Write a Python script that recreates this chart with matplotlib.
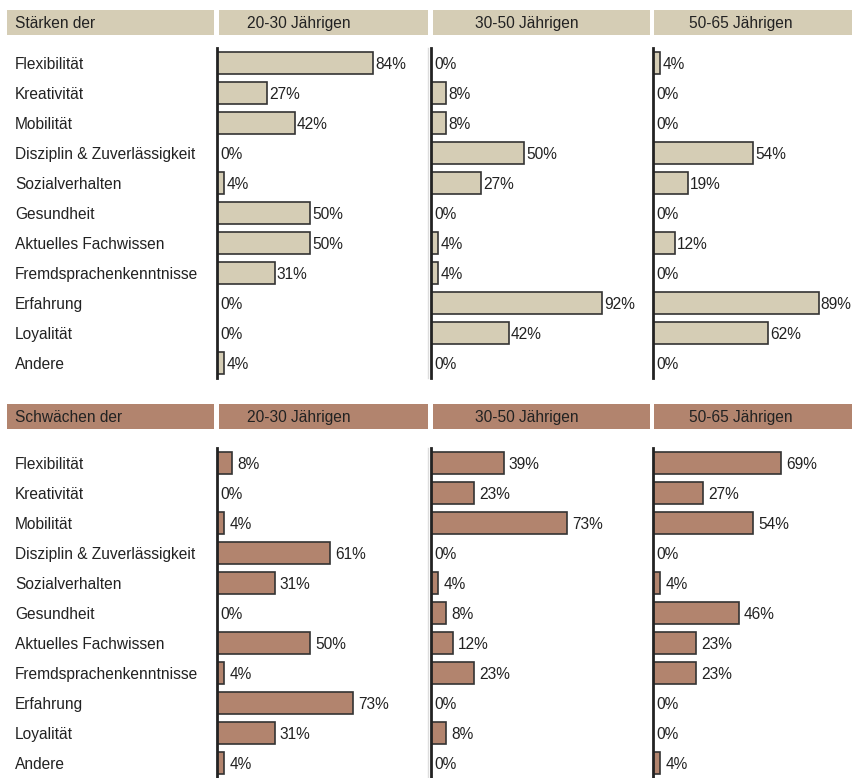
import matplotlib
matplotlib.use("Agg")
import matplotlib.pyplot as plt
from matplotlib.patches import Rectangle

plt.rcParams['font.family'] = ['Liberation Sans', 'DejaVu Sans']

categories = ["Flexibilität", "Kreativität", "Mobilität", "Disziplin & Zuverlässigkeit",
              "Sozialverhalten", "Gesundheit", "Aktuelles Fachwissen",
              "Fremdsprachenkenntnisse", "Erfahrung", "Loyalität", "Andere"]
age_groups = ["20-30 Jährigen", "30-50 Jährigen", "50-65 Jährigen"]
panel_titles = ["Stärken der", "Schwächen der"]

staerken_20_30 = [84, 27, 42, 0, 4, 50, 50, 31, 0, 0, 4]
staerken_30_50 = [0, 8, 8, 50, 27, 0, 4, 4, 92, 42, 0]
staerken_50_65 = [4, 0, 0, 54, 19, 0, 12, 0, 89, 62, 0]

schwaechen_20_30 = [8, 0, 4, 61, 31, 0, 50, 4, 73, 31, 4]
schwaechen_30_50 = [39, 23, 73, 0, 4, 8, 12, 23, 0, 8, 0]
schwaechen_50_65 = [69, 27, 54, 0, 4, 46, 23, 23, 0, 0, 4]

panels = [
    ([staerken_20_30, staerken_30_50, staerken_50_65], "#d5cdb5", 2),
    ([schwaechen_20_30, schwaechen_30_50, schwaechen_50_65], "#b2846e", 5),
]

W, H = 852, 778
fig = plt.figure(figsize=(W / 100, H / 100), dpi=100)
fig.patch.set_facecolor("white")

PX_PER_PCT = 1.86
TEXT = "#222222"
FS = 11.2
BASE = 6  # pixels from row centre down to text baseline

# pixel layout of the columns (axis line, right edge of column)
col_left = [217, 431, 653]
col_right = [428, 645, 852]
header_boxes = [(7, 214), (219, 428), (433, 650), (654, 852)]
header_text_x = [247, 475, 689]
panel_top = [10, 404]         # header top
header_h = 25
axes_top = [48, 448]
row_h = 30
n = len(categories)


def fx(px):
    return px / W


def fy(py):
    return 1 - py / H


for p, (series, color, gap) in enumerate(panels):
    top = panel_top[p]
    # header strip
    for (x0, x1) in header_boxes:
        fig.patches.append(Rectangle((fx(x0), fy(top + header_h)), fx(x1 - x0), header_h / H,
                                     transform=fig.transFigure, facecolor=color,
                                     edgecolor="none", zorder=0))
    hy = fy(top + header_h / 2 + 5.5)
    fig.text(fx(15), hy, panel_titles[p], ha="left", va="baseline",
             fontsize=FS, color=TEXT)
    for c in range(3):
        fig.text(fx(header_text_x[c]), hy, age_groups[c],
                 ha="left", va="baseline", fontsize=FS, color=TEXT)

    ax_top = axes_top[p]
    ax_h = n * row_h
    # category labels
    for i, cat in enumerate(categories):
        fig.text(fx(15), fy(ax_top + row_h * (i + 0.5) + BASE), cat, ha="left",
                 va="baseline", fontsize=FS, color=TEXT)

    for c in range(3):
        left, right = col_left[c], col_right[c]
        ax = fig.add_axes([fx(left), fy(ax_top + ax_h), fx(right - left), ax_h / H])
        ax.set_xlim(0, (right - left) / PX_PER_PCT)
        ax.set_ylim(n - 0.5, -0.5)
        vals = series[c]
        ys = list(range(n))
        ax.barh(ys, vals, height=0.73, color=color, edgecolor="#333333",
                linewidth=1.2, zorder=2)
        for y, v in zip(ys, vals):
            off = gap if v > 0 else 3
            ax.annotate(f"{v}%", (v, y), xytext=(off, -BASE), textcoords="offset pixels",
                        ha="left", va="baseline", fontsize=FS, color=TEXT, zorder=3)
        ax.set_xticks([])
        ax.set_yticks([])
        for s in ("top", "bottom"):
            ax.spines[s].set_visible(False)
        ax.spines["left"].set_color("#222222")
        ax.spines["left"].set_linewidth(2)
        ax.spines["left"].set_zorder(4)
        if c == 0:
            ax.spines["right"].set_color("#dddddd")
            ax.spines["right"].set_linewidth(1)
        else:
            ax.spines["right"].set_visible(False)
        ax.patch.set_alpha(0)

fig.savefig("out.png", dpi=100)
